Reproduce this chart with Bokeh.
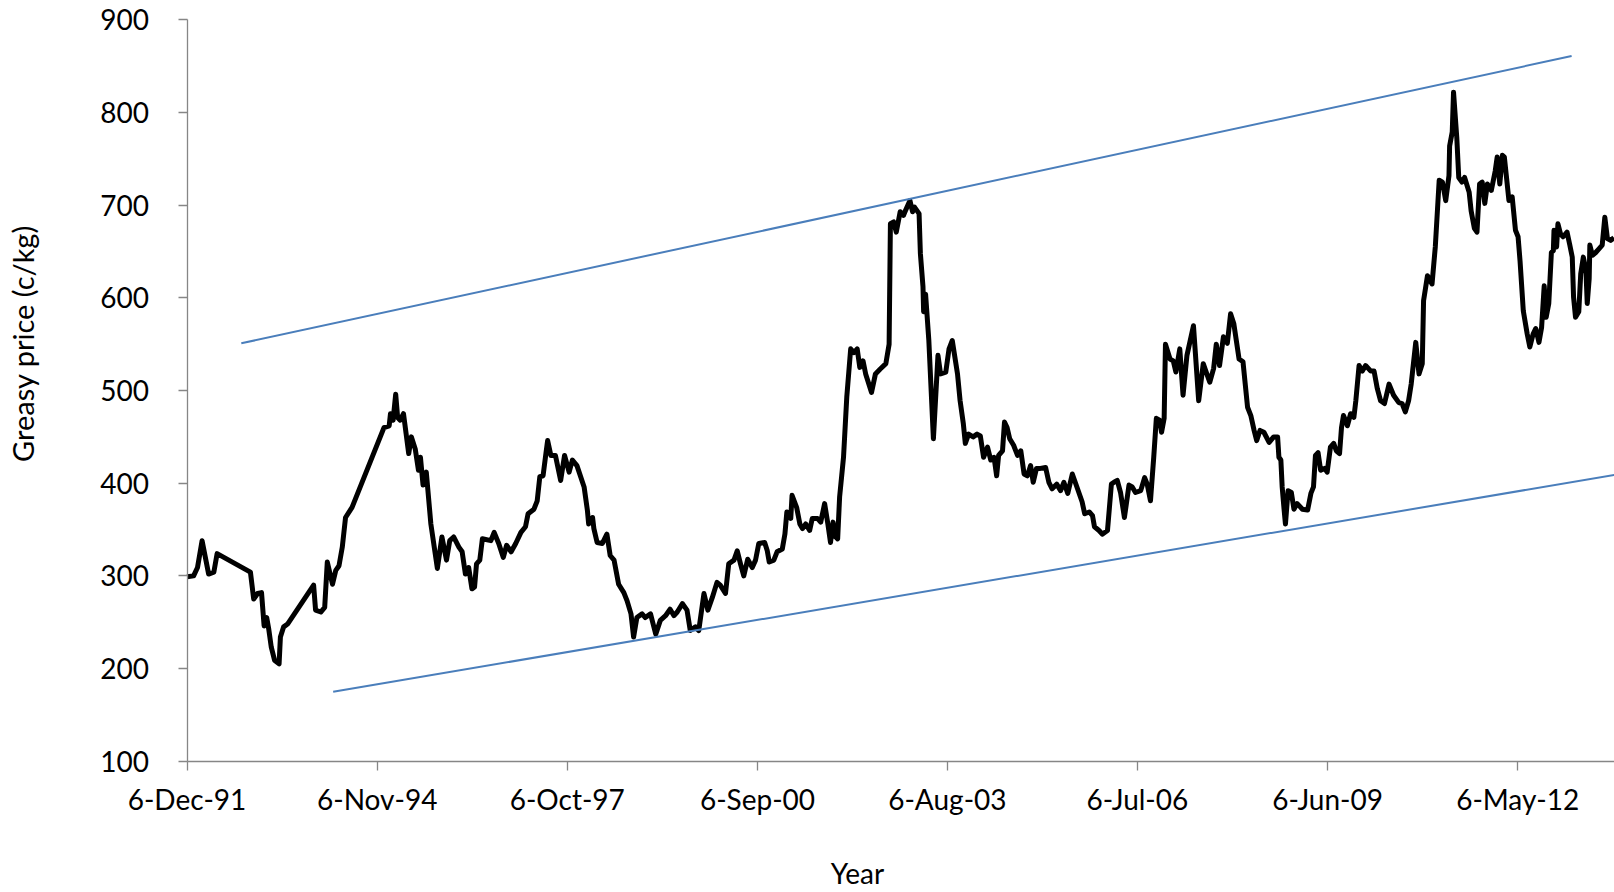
import math
from datetime import datetime
from bokeh.plotting import figure
from bokeh.models import Range1d, FixedTicker, Label
from bokeh.embed import file_html
from bokeh.resources import INLINE

# ---- data (decimal year, greasy price c/kg) ----
year = [
    1991.93, 1992.03, 1992.09, 1992.16, 1992.26, 1992.34, 1992.39, 1992.90, 1992.95, 1993.01,
    1993.07, 1993.11, 1993.15, 1993.18, 1993.22, 1993.27, 1993.34, 1993.36, 1993.41, 1993.47,
    1993.87, 1993.90, 1993.98, 1994.04, 1994.08, 1994.16, 1994.21, 1994.26, 1994.31, 1994.36,
    1994.46, 1994.95, 1995.03, 1995.05, 1995.09, 1995.13, 1995.16, 1995.20, 1995.25, 1995.33,
    1995.37, 1995.43, 1995.48, 1995.51, 1995.55, 1995.60, 1995.67, 1995.77, 1995.84, 1995.91,
    1995.96, 1996.02, 1996.10, 1996.15, 1996.20, 1996.25, 1996.30, 1996.34, 1996.37, 1996.42,
    1996.46, 1996.59, 1996.64, 1996.71, 1996.78, 1996.83, 1996.90, 1996.97, 1997.05, 1997.12,
    1997.16, 1997.25, 1997.30, 1997.34, 1997.39, 1997.43, 1997.46, 1997.51, 1997.58, 1997.66,
    1997.72, 1997.79, 1997.84, 1997.91, 1998.02, 1998.07, 1998.09, 1998.15, 1998.17, 1998.22,
    1998.30, 1998.37, 1998.42, 1998.48, 1998.55, 1998.63, 1998.68, 1998.74, 1998.78, 1998.83,
    1998.91, 1998.96, 1999.04, 1999.12, 1999.19, 1999.27, 1999.34, 1999.40, 1999.45, 1999.53,
    1999.60, 1999.65, 1999.73, 1999.78, 1999.86, 1999.92, 1999.99, 2000.06, 2000.11, 2000.19,
    2000.24, 2000.32, 2000.37, 2000.42, 2000.47, 2000.53, 2000.60, 2000.65, 2000.70, 2000.79,
    2000.83, 2000.86, 2000.93, 2000.98, 2001.06, 2001.10, 2001.13, 2001.19, 2001.21, 2001.28,
    2001.33, 2001.37, 2001.42, 2001.48, 2001.52, 2001.60, 2001.65, 2001.71, 2001.76, 2001.80,
    2001.84, 2001.88, 2001.91, 2001.94, 2002.00, 2002.05, 2002.11, 2002.16, 2002.21, 2002.25,
    2002.30, 2002.34, 2002.43, 2002.49, 2002.56, 2002.65, 2002.70, 2002.72, 2002.77, 2002.81,
    2002.87, 2002.92, 2002.95, 2003.02, 2003.06, 2003.09, 2003.16, 2003.18, 2003.22, 2003.23,
    2003.26, 2003.31, 2003.38, 2003.45, 2003.49, 2003.57, 2003.62, 2003.67, 2003.75, 2003.79,
    2003.84, 2003.87, 2003.92, 2003.99, 2004.05, 2004.10, 2004.15, 2004.21, 2004.26, 2004.31,
    2004.35, 2004.38, 2004.44, 2004.47, 2004.51, 2004.55, 2004.61, 2004.67, 2004.72, 2004.77,
    2004.82, 2004.87, 2004.91, 2004.96, 2005.02, 2005.10, 2005.15, 2005.20, 2005.27, 2005.33,
    2005.38, 2005.44, 2005.51, 2005.59, 2005.66, 2005.70, 2005.77, 2005.82, 2005.85, 2005.92,
    2005.97, 2006.05, 2006.11, 2006.15, 2006.20, 2006.25, 2006.31, 2006.38, 2006.43, 2006.48,
    2006.56, 2006.62, 2006.66, 2006.71, 2006.76, 2006.80, 2006.85, 2006.88, 2006.92, 2006.94,
    2007.01, 2007.06, 2007.10, 2007.16, 2007.21, 2007.27, 2007.37, 2007.45, 2007.52, 2007.62,
    2007.68, 2007.72, 2007.77, 2007.83, 2007.89, 2007.94, 2007.99, 2008.07, 2008.13, 2008.20,
    2008.25, 2008.30, 2008.34, 2008.39, 2008.45, 2008.53, 2008.60, 2008.66, 2008.68, 2008.71,
    2008.73, 2008.76, 2008.78, 2008.82, 2008.87, 2008.91, 2008.96, 2009.04, 2009.12, 2009.17,
    2009.21, 2009.24, 2009.28, 2009.32, 2009.38, 2009.42, 2009.47, 2009.52, 2009.56, 2009.61,
    2009.64, 2009.67, 2009.70, 2009.73, 2009.78, 2009.83, 2009.86, 2009.91, 2009.96, 2010.01,
    2010.09, 2010.14, 2010.19, 2010.24, 2010.30, 2010.37, 2010.44, 2010.52, 2010.57, 2010.62,
    2010.67, 2010.71, 2010.78, 2010.83, 2010.88, 2010.90, 2010.96, 2011.03, 2011.08, 2011.14,
    2011.19, 2011.24, 2011.29, 2011.30, 2011.34, 2011.36, 2011.41, 2011.44, 2011.49, 2011.53,
    2011.60, 2011.63, 2011.68, 2011.72, 2011.76, 2011.80, 2011.84, 2011.88, 2011.94, 2012.00,
    2012.03, 2012.07, 2012.11, 2012.14, 2012.21, 2012.26, 2012.31, 2012.35, 2012.38, 2012.43,
    2012.49, 2012.53, 2012.58, 2012.62, 2012.67, 2012.71, 2012.75, 2012.78, 2012.82, 2012.86,
    2012.89, 2012.90, 2012.94, 2012.96, 2013.00, 2013.04, 2013.10, 2013.14, 2013.18, 2013.20,
    2013.23, 2013.28, 2013.31, 2013.35, 2013.39, 2013.41, 2013.44, 2013.45, 2013.49, 2013.54,
    2013.59, 2013.64, 2013.68, 2013.72, 2013.77, 2013.82,
]
price = [
    299, 300, 309, 338, 302, 304, 324, 304, 275, 281,
    282, 246, 255, 243, 223, 209, 205, 234, 245, 248,
    290, 263, 261, 266, 315, 291, 306, 311, 331, 363,
    374, 460, 462, 475, 468, 496, 471, 468, 475, 432,
    450, 437, 414, 428, 398, 412, 356, 308, 342, 317,
    338, 342, 331, 326, 302, 309, 286, 288, 313, 317,
    340, 338, 347, 335, 320, 333, 326, 335, 347, 353,
    367, 372, 381, 407, 408, 430, 446, 430, 430, 403,
    430, 412, 425, 419, 396, 371, 356, 363, 351, 336,
    335, 345, 322, 317, 291, 282, 273, 259, 234, 255,
    259, 255, 259, 237, 252, 257, 264, 257, 261, 270,
    263, 241, 245, 241, 281, 263, 277, 293, 290, 281,
    313, 317, 327, 313, 300, 318, 309, 317, 335, 336,
    327, 315, 317, 326, 329, 345, 369, 362, 387, 374,
    356, 351, 356, 349, 362, 362, 358, 378, 356, 336,
    358, 342, 340, 385, 428, 493, 545, 541, 545, 525,
    532, 518, 498, 518, 523, 529, 550, 680, 682, 671,
    693, 689, 694, 705, 693, 698, 691, 648, 612, 585,
    604, 554, 448, 538, 518, 520, 545, 554, 518, 489,
    464, 443, 453, 450, 453, 451, 428, 439, 425, 428,
    408, 430, 435, 466, 460, 448, 441, 430, 435, 410,
    408, 419, 401, 416, 416, 417, 401, 394, 399, 392,
    401, 389, 410, 394, 380, 367, 369, 365, 353, 349,
    345, 349, 399, 401, 403, 390, 363, 398, 396, 390,
    392, 406, 399, 381, 428, 470, 468, 455, 470, 550,
    534, 532, 520, 545, 495, 538, 570, 489, 529, 509,
    524, 550, 527, 558, 551, 583, 572, 534, 531, 482,
    473, 457, 446, 457, 455, 444, 450, 450, 428, 425,
    396, 371, 356, 392, 390, 372, 378, 372, 371, 389,
    396, 430, 433, 414, 416, 412, 439, 443, 435, 432,
    460, 473, 468, 462, 475, 471, 489, 527, 521, 527,
    521, 521, 502, 489, 486, 507, 495, 487, 486, 477,
    489, 507, 552, 518, 529, 597, 624, 615, 655, 727,
    725, 705, 732, 764, 779, 822, 773, 730, 725, 730,
    714, 694, 675, 671, 723, 725, 702, 723, 716, 737,
    752, 723, 754, 752, 705, 709, 673, 666, 640, 586,
    561, 547, 561, 567, 552, 568, 613, 579, 594, 649,
    651, 673, 655, 680, 669, 666, 671, 658, 644, 601,
    579, 585, 626, 644, 630, 594, 621, 657, 646, 649,
    653, 657, 687, 664, 662, 665,
]

# trend channel lines
upper_year = [1992.76, 2013.17]
upper_price = [551, 861]
lower_year = [1994.17, 2013.83]
lower_price = [175, 409]

# axis ticks
x_tick_dates = ["1991-12-06", "1994-11-06", "1997-10-06", "2000-09-06",
                "2003-08-06", "2006-07-06", "2009-06-06", "2012-05-06"]
x_tick_labels = ["6-Dec-91", "6-Nov-94", "6-Oct-97", "6-Sep-00",
                 "6-Aug-03", "6-Jul-06", "6-Jun-09", "6-May-12"]
y_ticks = [100, 200, 300, 400, 500, 600, 700, 800, 900]
y_min, y_max = 100, 900
x_axis_start = "1991-12-06"

# ---- layout constants (pixels) ----
W, H = 1614, 892
AXIS_LEFT_PX = 186.5      # where the value axis sits
AXIS_BOTTOM_PX = 760.7    # where the date axis sits
PX_PER_DAY = 0.17845
PX_PER_UNIT = 0.9266
DAY_MS = 86400000.0

EPOCH = datetime(1970, 1, 1)


def to_ms(dt):
    return (dt - EPOCH).total_seconds() * 1000.0


def dec_to_ms(y):
    yr = int(math.floor(y))
    a = to_ms(datetime(yr, 1, 1))
    b = to_ms(datetime(yr + 1, 1, 1))
    return a + (y - yr) * (b - a)


def iso_to_ms(s):
    return int(to_ms(datetime.strptime(s, "%Y-%m-%d")))


x = [dec_to_ms(v) for v in year]
ux = [dec_to_ms(v) for v in upper_year]
lx = [dec_to_ms(v) for v in lower_year]
tick_ms = [iso_to_ms(s) for s in x_tick_dates]

x0 = iso_to_ms(x_axis_start)
x_lo = x0 - AXIS_LEFT_PX / PX_PER_DAY * DAY_MS
x_hi = x_lo + W / PX_PER_DAY * DAY_MS
y_lo = y_min - (H - AXIS_BOTTOM_PX) / PX_PER_UNIT
y_hi = y_lo + H / PX_PER_UNIT

FONT = "Lato"
AXIS_COL = "#868686"

p = figure(width=W, height=H, output_backend="svg", toolbar_location=None,
           x_range=Range1d(x_lo, x_hi), y_range=Range1d(y_lo, y_hi),
           min_border_left=0, min_border_right=0, min_border_top=0, min_border_bottom=0)
p.outline_line_color = None
p.background_fill_color = "white"
p.border_fill_color = "white"
p.xgrid.visible = False
p.ygrid.visible = False

p.xaxis.ticker = FixedTicker(ticks=tick_ms)
p.xaxis.major_label_overrides = {t: lab for t, lab in zip(tick_ms, x_tick_labels)}
p.xaxis.fixed_location = y_min
p.xaxis.bounds = (x0, x_hi)
p.yaxis.ticker = FixedTicker(ticks=y_ticks)
p.yaxis.fixed_location = x0
p.yaxis.bounds = (y_min, y_max)

for ax in (p.xaxis, p.yaxis):
    ax.axis_line_color = AXIS_COL
    ax.axis_line_width = 1.3
    ax.major_tick_line_color = AXIS_COL
    ax.major_tick_line_width = 1.3
    ax.major_tick_in = 0
    ax.major_tick_out = 9
    ax.minor_tick_line_color = None
    ax.major_label_text_font = FONT
    ax.major_label_text_font_size = "28px"
    ax.major_label_text_color = "#000000"
p.yaxis.major_label_standoff = 29
p.xaxis.major_label_standoff = 12

p.line(x, price, line_color="black", line_width=5, line_join="round")
p.line(ux, upper_price, line_color="#4A7EBB", line_width=2)
p.line(lx, lower_price, line_color="#4A7EBB", line_width=2)

p.add_layout(Label(x=22, y=H - 343, x_units="screen", y_units="screen",
                   text="Greasy price (c/kg)", angle=math.pi / 2,
                   text_align="center", text_baseline="middle",
                   text_font=FONT, text_font_size="29px", text_color="#000000"))
p.add_layout(Label(x=857, y=H - 872, x_units="screen", y_units="screen",
                   text="Year", text_align="center", text_baseline="alphabetic",
                   text_font=FONT, text_font_size="28px", text_color="#000000"))

open("out.html", "w").write(file_html(p, INLINE))
